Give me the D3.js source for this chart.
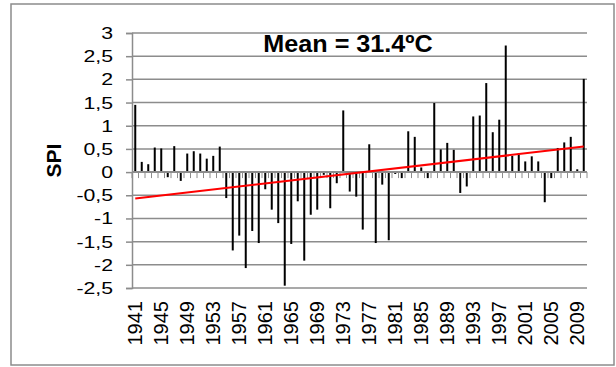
<!DOCTYPE html>
<html>
<head>
<meta charset="utf-8">
<script src="https://cdn.jsdelivr.net/npm/d3@7"></script>
<style>
  body { margin: 0; background: #fff; }
  text { font-family: "Liberation Sans", Arial, sans-serif; }
</style>
</head>
<body>
<div id="chart"></div>
<script>
// SPI per year, 1941-2010
var years = d3.range(1941, 2011);
var spi = [
  1.45, 0.22, 0.17, 0.53, 0.51, -0.11, 0.56, -0.19, 0.40, 0.45,
  0.40, 0.29, 0.35, 0.55, -0.56, -1.69, -1.37, -2.07, -1.27, -1.53,
  -0.37, -0.81, -1.10, -2.45, -1.55, -0.63, -1.91, -0.92, -0.81, -0.06,
  -0.78, -0.24, 1.33, -0.42, -0.53, -1.24, 0.60, -1.53, -0.27, -1.47,
  -0.04, -0.13, 0.88, 0.76, 0.10, -0.13, 1.49, 0.49, 0.63, 0.48,
  -0.45, -0.31, 1.20, 1.22, 1.92, 0.86, 1.13, 2.73, 0.35, 0.41,
  0.23, 0.34, 0.23, -0.65, -0.13, 0.52, 0.64, 0.76, 0.06, 2.01
];
var yTicks = [3, 2.5, 2, 1.5, 1, 0.5, 0, -0.5, -1, -1.5, -2, -2.5];
var labelYears = d3.range(1941, 2011, 4);
var trend = [-0.57, 0.55]; // linear trend at first and last year
var title = "Mean = 31.4ºC";

var width = 616, height = 367;
var margin = {left: 132, right: 29, top: 33, bottom: 79};

var svg = d3.select("#chart").append("svg")
    .attr("width", width)
    .attr("height", height);

// outer frame
svg.append("rect")
    .attr("x", 11).attr("y", 4)
    .attr("width", 603).attr("height", 361)
    .attr("fill", "none")
    .attr("stroke", "#8c8c8c")
    .attr("stroke-width", 1.5);

var x = d3.scaleBand()
    .domain(years)
    .range([margin.left, width - margin.right])
    .padding(0);

var y = d3.scaleLinear()
    .domain([-2.5, 3])
    .range([height - margin.bottom, margin.top]);

var fmt = function (d) { return String(d).replace(".", ","); };

// y axis (ticks only, labels drawn below so they can be widened)
var yAxis = svg.append("g")
    .attr("transform", "translate(" + margin.left + ",0)")
    .call(d3.axisLeft(y).tickValues(yTicks).tickFormat("").tickSize(6));
yAxis.select(".domain").attr("stroke", "#8c8c8c").attr("stroke-width", 1.5);
yAxis.selectAll(".tick line").attr("stroke", "#8c8c8c").attr("stroke-width", 1.5);

svg.append("g").selectAll("text")
    .data(yTicks)
    .enter().append("text")
    .attr("transform", function (d) {
        return "translate(113," + (y(d) + 6) + ") scale(1.25,1)";
    })
    .attr("text-anchor", "end")
    .attr("font-size", 17)
    .text(fmt);

// gridlines
svg.append("g").selectAll("line")
    .data(yTicks)
    .enter().append("line")
    .attr("x1", margin.left)
    .attr("x2", width - margin.right)
    .attr("y1", function (d) { return y(d); })
    .attr("y2", function (d) { return y(d); })
    .attr("stroke", "#8c8c8c")
    .attr("stroke-width", 1.5);

// category ticks along zero line
var bounds = years.map(function (d) { return x(d); }).concat([width - margin.right]);
svg.append("g").selectAll("line")
    .data(bounds)
    .enter().append("line")
    .attr("x1", function (d) { return d; })
    .attr("x2", function (d) { return d; })
    .attr("y1", y(0))
    .attr("y2", y(0) + 6)
    .attr("stroke", "#8c8c8c")
    .attr("stroke-width", 1);

// bars
var bw = 2;
svg.append("g").selectAll("rect")
    .data(spi)
    .enter().append("rect")
    .attr("x", function (d, i) { return x(years[i]) + x.bandwidth() / 2 - bw / 2; })
    .attr("y", function (d) { return y(Math.max(0, d)); })
    .attr("width", bw)
    .attr("height", function (d) { return Math.abs(y(d) - y(0)); })
    .attr("fill", "#000");

// zero axis line
svg.append("line")
    .attr("x1", margin.left)
    .attr("x2", width - margin.right)
    .attr("y1", y(0))
    .attr("y2", y(0))
    .attr("stroke", "#8c8c8c")
    .attr("stroke-width", 2);

// trend line
var cx = function (yr) { return x(yr) + x.bandwidth() / 2; };
svg.append("line")
    .attr("x1", cx(years[0]))
    .attr("x2", cx(years[years.length - 1]))
    .attr("y1", y(trend[0]))
    .attr("y2", y(trend[1]))
    .attr("stroke", "#ff0000")
    .attr("stroke-width", 2);

// x labels
svg.append("g").selectAll("text")
    .data(labelYears)
    .enter().append("text")
    .attr("transform", function (d) {
        return "translate(" + (cx(d) + 7) + "," + 301 + ") rotate(-90)";
    })
    .attr("text-anchor", "end")
    .attr("font-size", 20)
    .text(function (d) { return d; });

// axis title
svg.append("text")
    .attr("transform", "translate(61," + ((margin.top + height - margin.bottom) / 2) + ") rotate(-90)")
    .attr("text-anchor", "middle")
    .attr("font-size", 21)
    .attr("font-weight", "bold")
    .text("SPI");

// chart title
svg.append("text")
    .attr("transform", "translate(348,52) scale(1.05,1)")
    .attr("text-anchor", "middle")
    .attr("font-size", 24)
    .attr("font-weight", "bold")
    .text(title);
</script>
</body>
</html>
